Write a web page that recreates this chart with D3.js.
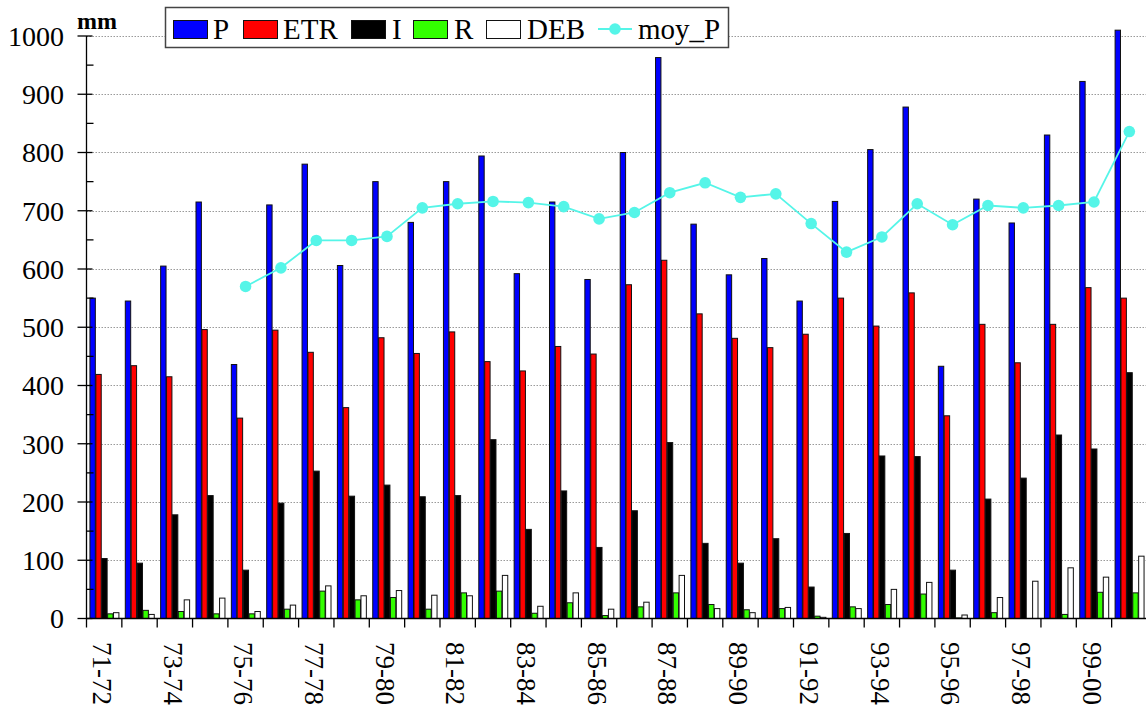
<!DOCTYPE html>
<html>
<head>
<meta charset="utf-8">
<script src="https://cdn.jsdelivr.net/npm/d3@7"></script>
<style>
  html, body { margin: 0; padding: 0; background: #fff; }
  svg { display: block; }
</style>
</head>
<body>
<svg id="chart" width="1146" height="711" font-family="'Liberation Serif', 'Times New Roman', Times, 'DejaVu Serif', serif"></svg>
<script>
// Hydrological years
const categories = ["71-72","72-73","73-74","74-75","75-76","76-77","77-78","78-79","79-80","80-81",
                    "81-82","82-83","83-84","84-85","85-86","86-87","87-88","88-89","89-90","90-91",
                    "91-92","92-93","93-94","94-95","95-96","96-97","97-98","98-99","99-00","00-01"];

// Annual water balance terms (mm)
const P   = [550,545,605,715,436,710,780,606,750,680, 750,794,592,715,582,800,963,677,590,618, 545,716,805,878,433,720,679,830,922,1010];
const ETR = [419,434,415,496,344,495,457,362,482,455, 492,441,425,467,454,573,615,523,481,465, 488,550,502,559,348,505,439,505,568,550];
const I   = [103, 95,178,211, 83,198,253,210,229,209, 211,307,153,219,122,185,302,129, 95,137,  54,146,279,278, 83,205,241,315,291,422];
const R   = [  8, 14, 12,  8,  8, 16, 47, 32, 36, 16,  44, 47,  9, 27,  5, 20, 44, 24, 15, 17,   4, 20, 24, 42,  1, 10,  0,  7, 45, 44];
const DEB = [ 10,  7, 32, 35, 12, 23, 56, 39, 48, 40,  39, 74, 21, 44, 16, 28, 74, 17, 10, 19,   2, 17, 50, 62,  6, 36, 64, 87, 71,107];

// Moving mean of precipitation (first four years undefined)
const moyP = [null,null,null,null,570,602,649,649,656,705, 712,716,714,707,686,697,731,748,723,729, 678,629,655,712,676,709,705,709,715,836];

const seriesNames  = ["P","ETR","I","R","DEB"];
const seriesColors = ["#0000ff","#ff0000","#000000","#33ff00","#ffffff"];
const yTicks = [0,100,200,300,400,500,600,700,800,900,1000];

const seriesData = [P, ETR, I, R, DEB];
const svg = d3.select("#chart");
const serif = "'Liberation Serif', 'Times New Roman', Times, 'DejaVu Serif', serif";

const plotLeft = 86.5, plotRight = 1147, plotTop = 36, plotBottom = 618.5;

const x0 = d3.scaleBand().domain(categories).range([plotLeft, plotRight]).padding(0);
const x1 = d3.scaleBand().domain(seriesNames).range([0, x0.bandwidth()])
  .paddingInner(0).paddingOuter(0.5);
const y = d3.scaleLinear().domain([0, 1000]).range([plotBottom, plotTop]);

// Dotted horizontal gridlines
svg.append("g").selectAll("line")
  .data(yTicks.filter(d => d > 0))
  .join("line")
  .attr("x1", plotLeft).attr("x2", 1146)
  .attr("y1", d => Math.round(y(d)) + 0.5).attr("y2", d => Math.round(y(d)) + 0.5)
  .attr("stroke", "#9a9a9a").attr("stroke-width", 1)
  .attr("stroke-dasharray", "1.5,1.5");

// Grouped bars
const groups = svg.append("g").selectAll("g")
  .data(categories)
  .join("g")
  .attr("transform", d => `translate(${x0(d)},0)`);

groups.selectAll("rect")
  .data((d, i) => seriesNames.map((s, k) => ({ s, k, v: seriesData[k][i] })))
  .join("rect")
  .attr("x", d => x1(d.s) + 0.5)
  .attr("width", x1.bandwidth() - 0.5)
  .attr("y", d => y(d.v))
  .attr("height", d => Math.max(0, plotBottom - y(d.v)))
  .attr("fill", d => seriesColors[d.k])
  .attr("stroke", "#111")
  .attr("stroke-width", 1);

// Y axis
const yAxis = svg.append("g");
yAxis.append("line")
  .attr("x1", plotLeft).attr("x2", plotLeft).attr("y1", plotTop).attr("y2", plotBottom)
  .attr("stroke", "#000").attr("stroke-width", 1.3);
yAxis.selectAll("line.major")
  .data(yTicks).join("line").attr("class", "major")
  .attr("x1", plotLeft - 9).attr("x2", plotLeft + 6)
  .attr("y1", d => y(d)).attr("y2", d => y(d))
  .attr("stroke", "#000").attr("stroke-width", 1.3);
yAxis.selectAll("line.minor")
  .data(d3.range(50, 1000, 100)).join("line").attr("class", "minor")
  .attr("x1", plotLeft).attr("x2", plotLeft + 7)
  .attr("y1", d => y(d)).attr("y2", d => y(d))
  .attr("stroke", "#000").attr("stroke-width", 1.3);
yAxis.selectAll("text")
  .data(yTicks).join("text")
  .attr("x", 64).attr("y", d => y(d))
  .attr("dy", "0.35em")
  .attr("text-anchor", "end")
  .attr("font-family", serif)
  .attr("font-size", 28)
  .text(d => d);

svg.append("text")
  .attr("x", 77).attr("y", 29)
  .attr("font-family", serif)
  .attr("font-size", 24).attr("font-weight", "bold")
  .text("mm");

// X axis
const xAxis = svg.append("g");
xAxis.append("line")
  .attr("x1", plotLeft).attr("x2", 1146).attr("y1", plotBottom).attr("y2", plotBottom)
  .attr("stroke", "#000").attr("stroke-width", 1.3);
xAxis.selectAll("line.tick")
  .data(categories).join("line").attr("class", "tick")
  .attr("x1", d => x0(d)).attr("x2", d => x0(d))
  .attr("y1", plotBottom).attr("y2", plotBottom + 9)
  .attr("stroke", "#000").attr("stroke-width", 1.3);
xAxis.selectAll("text")
  .data(categories.filter((d, i) => i % 2 === 0)).join("text")
  .attr("transform", d => `translate(${x0(d) + x0.bandwidth() / 2},642) rotate(90)`)
  .attr("dy", "0.42em")
  .attr("text-anchor", "start")
  .attr("font-family", serif)
  .attr("font-size", 27)
  .text(d => d);

// Moving-mean line with markers
const lineData = categories.map((c, i) => ({ c, v: moyP[i] })).filter(d => d.v != null);
const cx = d => x0(d.c) + x0.bandwidth() / 2;
svg.append("path")
  .datum(lineData)
  .attr("fill", "none")
  .attr("stroke", "#55f5e8")
  .attr("stroke-width", 1.8)
  .attr("d", d3.line().x(cx).y(d => y(d.v)));
svg.append("g").selectAll("circle")
  .data(lineData).join("circle")
  .attr("cx", cx).attr("cy", d => y(d.v))
  .attr("r", 5.8)
  .attr("fill", "#55f5e8");

// Legend
const legend = svg.append("g");
legend.append("rect")
  .attr("x", 165.5).attr("y", 7.5).attr("width", 563).attr("height", 40)
  .attr("fill", "#fff").attr("stroke", "#444").attr("stroke-width", 1.5);

const legendItems = [
  { name: "P",     kind: "bar",  color: seriesColors[0], sx: 173, tx: 213 },
  { name: "ETR",   kind: "bar",  color: seriesColors[1], sx: 243, tx: 283 },
  { name: "I",     kind: "bar",  color: seriesColors[2], sx: 351, tx: 392 },
  { name: "R",     kind: "bar",  color: seriesColors[3], sx: 413, tx: 454 },
  { name: "DEB",   kind: "bar",  color: seriesColors[4], sx: 486, tx: 527 },
  { name: "moy_P", kind: "line", color: "#55f5e8",       sx: 598, tx: 638 }
];
legendItems.forEach(it => {
  if (it.kind === "bar") {
    legend.append("rect")
      .attr("x", it.sx + 0.5).attr("y", 20.5).attr("width", 34).attr("height", 18)
      .attr("fill", it.color).attr("stroke", "#111").attr("stroke-width", 1);
  } else {
    legend.append("line")
      .attr("x1", it.sx).attr("x2", it.sx + 34).attr("y1", 29).attr("y2", 29)
      .attr("stroke", it.color).attr("stroke-width", 1.8);
    legend.append("circle")
      .attr("cx", it.sx + 17).attr("cy", 29).attr("r", 5.8).attr("fill", it.color);
  }
  legend.append("text")
    .attr("x", it.tx).attr("y", 38.5)
    .attr("font-family", serif)
    .attr("font-size", 29)
    .text(it.name);
});
</script>
</body>
</html>
